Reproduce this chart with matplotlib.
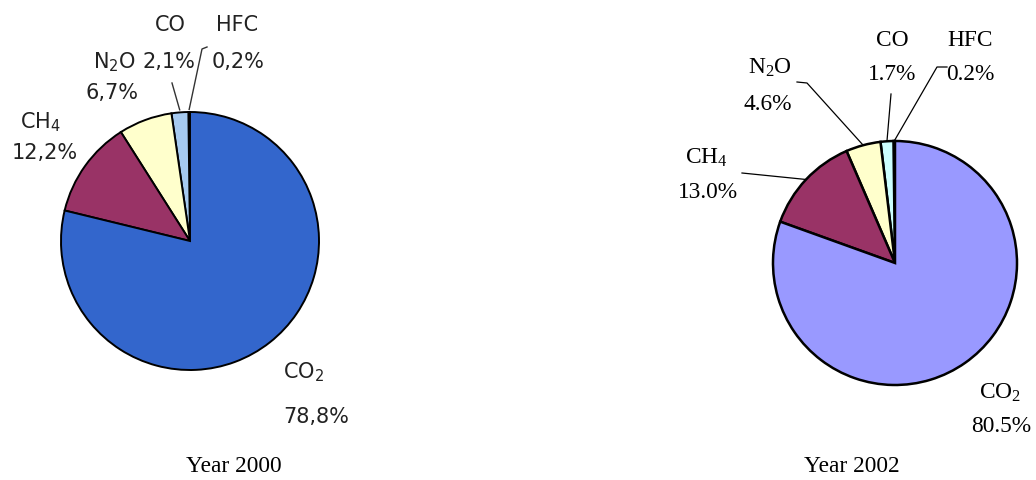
import numpy as np
import matplotlib
matplotlib.use("Agg")
import matplotlib.pyplot as plt

# Greenhouse gas emission shares (%)
gases = ["HFC", "CO", "N2O", "CH4", "CO2"]
share_2000 = [0.2, 2.1, 6.7, 12.2, 78.8]
share_2002 = [0.2, 1.7, 4.6, 13.0, 80.5]
text_2000 = ["0,2%", "2,1%", "6,7%", "12,2%", "78,8%"]
text_2002 = ["0.2%", "1.7%", "4.6%", "13.0%", "80.5%"]
years = ["Year 2000", "Year 2002"]

gas_tex = {"HFC": "HFC", "CO": "CO",
           "N2O": r"$\mathregular{N_2O}$",
           "CH4": r"$\mathregular{CH_4}$",
           "CO2": r"$\mathregular{CO_2}$"}

colors_2000 = ["#2b3f8c", "#a6caf0", "#ffffcc", "#993366", "#3366cc"]
colors_2002 = ["#000000", "#ccffff", "#ffffcc", "#993366", "#9999ff"]

W, H = 1036, 481
fig = plt.figure(figsize=(W / 100, H / 100), dpi=100)
ax = fig.add_axes([0, 0, 1, 1])


def Y(y):
    return H - y


def edge_point(values, i, cx, cy, r, start=90.0):
    total = sum(values)
    a0 = start + 360.0 * sum(values[:i]) / total
    a1 = a0 + 360.0 * values[i] / total
    m = np.deg2rad((a0 + a1) / 2)
    return cx + r * np.cos(m), cy + r * np.sin(m)


# ---- left pie (2000) ----
c1 = (190, Y(242))
r1 = 129
ax.pie(share_2000, colors=colors_2000, startangle=90, counterclock=True,
       center=c1, radius=r1,
       wedgeprops=dict(edgecolor="black", linewidth=1.4))

sans = dict(family="DejaVu Sans", fontsize=15, color="#222222",
            ha="center", va="center")
lab2000 = {
    "CO": ((170, 25), (169, 62)),
    "HFC": ((237, 25), (238, 62)),
    "N2O": ((114, 62), (112, 93)),
    "CH4": ((40, 122), (45, 153)),
}
for i, g in enumerate(gases[:4]):
    (nx, ny), (px, py) = lab2000[g]
    ax.text(nx, Y(ny), gas_tex[g], **sans)
    ax.text(px, Y(py), text_2000[i], **sans)
ax.text(283, Y(372), gas_tex["CO2"], **{**sans, "ha": "left"})
ax.text(283, Y(417), text_2000[4], **{**sans, "ha": "left"})

# leader lines for the thin slices
ex, ey = edge_point(share_2000, 1, *c1, r1 * 1.02)
ax.plot([172, ex], [Y(84), ey], color="#333333", lw=1.0)
ex, ey = edge_point(share_2000, 0, *c1, r1 * 1.02)
ax.plot([207, 202, ex], [Y(48), Y(50), ey], color="#333333", lw=1.0)

# ---- right pie (2002) ----
c2 = (895, Y(264))
r2 = 122
ax.pie(share_2002, colors=colors_2002, startangle=90, counterclock=True,
       center=c2, radius=r2,
       wedgeprops=dict(edgecolor="black", linewidth=1.8))

serif = dict(family="Liberation Serif", fontsize=16.8, color="black",
             ha="center", va="center")
lab2002 = {
    "HFC": ((970, 40), (970, 75)),
    "CO": ((892, 40), (892, 75)),
    "N2O": ((770, 68), (768, 105)),
    "CH4": ((706, 158), (708, 193)),
    "CO2": ((1000, 393), (1001, 427)),
}
for i, g in enumerate(gases):
    (nx, ny), (px, py) = lab2002[g]
    ax.text(nx, Y(ny), gas_tex[g], **serif)
    ax.text(px, Y(py), text_2002[i], **serif)

# leader lines
ex, ey = edge_point(share_2002, 3, *c2, r2)
ax.plot([742, ex], [Y(174), ey], color="black", lw=0.9)
ex, ey = edge_point(share_2002, 2, *c2, r2)
ax.plot([797, 807, ex], [Y(83), Y(84), ey], color="black", lw=0.9)
ex, ey = edge_point(share_2002, 1, *c2, r2)
ax.plot([891, ex], [Y(95), ey], color="black", lw=0.9)
ex, ey = edge_point(share_2002, 0, *c2, r2)
ax.plot([947, 937, ex], [Y(68), Y(68), ey], color="black", lw=0.9)

# ---- captions ----
ax.text(234, Y(467), years[0], **serif)
ax.text(852, Y(467), years[1], **serif)

ax.set_xlim(0, W)
ax.set_ylim(0, H)
ax.set_aspect("equal")
ax.axis("off")

fig.savefig("out.png", dpi=100)
